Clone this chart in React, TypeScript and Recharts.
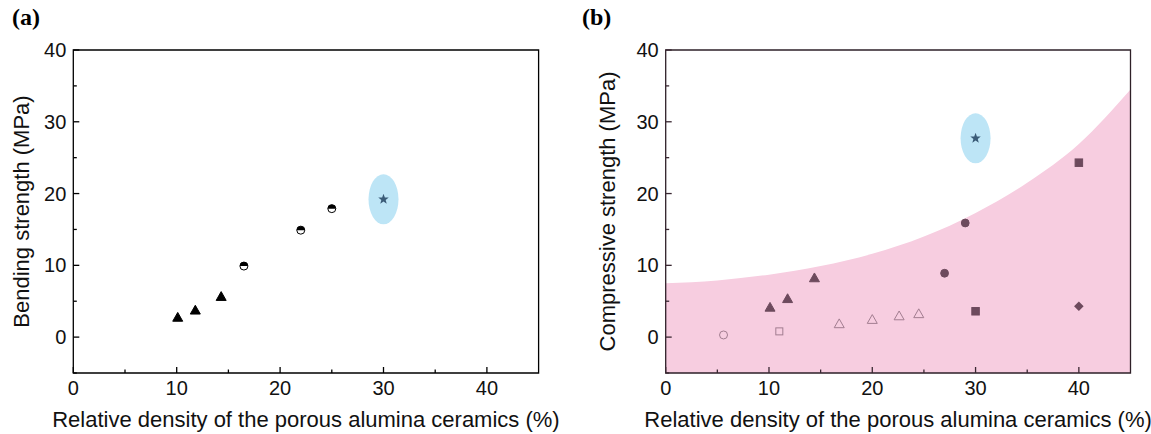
import React from "react";
import {
    ScatterChart, ComposedChart, Scatter, Area, XAxis, YAxis, ReferenceArea
} from "recharts";

// panel (a): bending strength
const aTriangles = [{ x: 10.1, y: 2.7 }, { x: 11.8, y: 3.7 }, { x: 14.3, y: 5.6 }];
const aHalfCircles = [{ x: 16.5, y: 9.9 }, { x: 22.0, y: 14.9 }, { x: 25.0, y: 17.9 }];
const aStar = [{ x: 30.0, y: 19.2 }];

// panel (b): compressive strength
const bOpenCircle = [{ x: 5.6, y: 0.3 }];
const bOpenSquare = [{ x: 11.0, y: 0.8 }];
const bTriangles = [{ x: 10.1, y: 4.1 }, { x: 11.8, y: 5.3 }, { x: 14.4, y: 8.2 }];
const bOpenTriangles = [{ x: 16.8, y: 1.8 }, { x: 20.0, y: 2.4 }, { x: 22.6, y: 2.9 }, { x: 24.5, y: 3.2 }];
const bCircles = [{ x: 27.0, y: 8.9 }, { x: 29.0, y: 15.9 }];
const bSquares = [{ x: 30.0, y: 3.6 }, { x: 40.0, y: 24.3 }];
const bDiamond = [{ x: 40.0, y: 4.3 }];
const bStar = [{ x: 30.0, y: 27.7 }];
// upper edge of the pink region
const bBoundary = [
    { x: 0, y: 7.5 }, { x: 5, y: 7.9 }, { x: 10, y: 8.7 }, { x: 15, y: 9.9 }, { x: 20, y: 11.6 },
    { x: 25, y: 14.0 }, { x: 30, y: 17.3 }, { x: 35, y: 21.5 }, { x: 40, y: 26.9 }, { x: 45, y: 34.5 }
];

const X_TICKS = [0, 5, 10, 15, 20, 25, 30, 35, 40];
const Y_TICKS = [-5, 0, 5, 10, 15, 20, 25, 30, 35, 40];
const X_TITLE = "Relative density of the porous alumina ceramics (%)";

const FONT = '"Liberation Sans", Arial, sans-serif';
const MAUVE = "#6d4a5d";
const MAUVE_LIGHT = "#a27d90";
const PINK = "#f7cde0";

const XTick = (p: any) => {
    const v = p.payload.value;
    const major = v % 10 === 0;
    return (
        <g>
            <line x1={p.x} y1={p.y} x2={p.x} y2={p.y - (major ? 6 : 3.5)} stroke={p.color} strokeWidth={1.3} />
            {major && (
                <text x={p.x} y={p.y + 22} textAnchor="middle" fontSize={20} fontFamily={FONT} fill="#111">{v}</text>
            )}
        </g>
    );
};

const YTick = (p: any) => {
    const v = p.payload.value;
    const major = v % 10 === 0;
    return (
        <g>
            <line x1={p.x} y1={p.y} x2={p.x + (major ? 6 : 3.5)} y2={p.y} stroke={p.color} strokeWidth={1.3} />
            {major && (
                <text x={p.x - 7} y={p.y + 7} textAnchor="end" fontSize={20} fontFamily={FONT} fill="#111">{v}</text>
            )}
        </g>
    );
};

const triangle = (fill: string, stroke: string) => (p: any) => (
    <polygon
        points={`${p.cx},${p.cy - 5.3} ${p.cx - 5},${p.cy + 3.5} ${p.cx + 5},${p.cy + 3.5}`}
        fill={fill} stroke={stroke} strokeWidth={1}
    />
);

const halfCircle = (p: any) => (
    <g>
        <circle cx={p.cx} cy={p.cy} r={4} fill="#fff" stroke="#000" strokeWidth={1} />
        <path d={`M${p.cx - 4},${p.cy} A4,4 0 0 1 ${p.cx + 4},${p.cy} Z`} fill="#000" />
    </g>
);

const starPath = (cx: number, cy: number, ro: number, ri: number) => {
    let d = "";
    for (let i = 0; i < 10; i++) {
        const r = i % 2 === 0 ? ro : ri;
        const a = -Math.PI / 2 + (i * Math.PI) / 5;
        d += `${i === 0 ? "M" : "L"}${cx + r * Math.cos(a)},${cy + r * Math.sin(a)}`;
    }
    return d + "Z";
};

const highlightStar = (p: any) => (
    <g>
        <ellipse cx={p.cx} cy={p.cy} rx={15} ry={25} fill="#bde5f6" />
        <path d={starPath(p.cx, p.cy, 5.5, 2.3)} fill="#3b5c78" />
    </g>
);

const circle = (fill: string, stroke: string, r: number) => (p: any) => (
    <circle cx={p.cx} cy={p.cy} r={r} fill={fill} stroke={stroke} strokeWidth={1} />
);

const square = (fill: string, stroke: string, s: number) => (p: any) => (
    <rect x={p.cx - s / 2} y={p.cy - s / 2} width={s} height={s} fill={fill} stroke={stroke} strokeWidth={1} />
);

const diamond = (p: any) => (
    <polygon
        points={`${p.cx},${p.cy - 4.8} ${p.cx + 4.8},${p.cy} ${p.cx},${p.cy + 4.8} ${p.cx - 4.8},${p.cy}`}
        fill={MAUVE}
    />
);

const panelLetter: React.CSSProperties = {
    position: "absolute", top: 4, fontFamily: '"Liberation Serif", "Times New Roman", serif',
    fontWeight: "bold", fontSize: 24, color: "#000"
};

export default function App() {
    const titleStyle = { fontSize: 22, fontFamily: FONT, fill: "#111" };

    return (
        <div style={{ position: "absolute", left: 0, top: 0, width: 1151, height: 434, background: "#fff" }}>
            <div style={{ ...panelLetter, left: 12 }}>(a)</div>
            <div style={{ ...panelLetter, left: 582 }}>(b)</div>

            <div style={{ position: "absolute", left: 0, top: 0 }}>
                <ScatterChart width={575} height={434} margin={{ top: 50, right: 36.4, left: 13.3, bottom: 0 }}>
                    <XAxis
                        type="number" dataKey="x" domain={[0, 45]} ticks={X_TICKS} interval={0}
                        allowDataOverflow axisLine={false} tickLine={false} tickSize={0} tickMargin={0} height={61}
                        tick={(p: any) => <XTick {...p} color="#000" />}
                        label={{ value: X_TITLE, position: "insideBottom", offset: 7, style: titleStyle }}
                    />
                    <YAxis
                        type="number" dataKey="y" domain={[-5, 40]} ticks={Y_TICKS} interval={0}
                        allowDataOverflow axisLine={false} tickLine={false} tickSize={0} tickMargin={0} width={60}
                        tick={(p: any) => <YTick {...p} color="#000" />}
                        label={{
                            value: "Bending strength (MPa)", angle: -90, position: "insideLeft", offset: 8,
                            style: { ...titleStyle, textAnchor: "middle" }
                        }}
                    />
                    <Scatter data={aTriangles} shape={triangle("#000", "#000")} isAnimationActive={false} />
                    <Scatter data={aHalfCircles} shape={halfCircle} isAnimationActive={false} />
                    <Scatter data={aStar} shape={highlightStar} isAnimationActive={false} />
                    <ReferenceArea x1={0} x2={45} y1={-5} y2={40} fill="none" stroke="#000" strokeWidth={1.3} />
                </ScatterChart>
            </div>

            <div style={{ position: "absolute", left: 575, top: 0 }}>
                <ComposedChart width={576} height={434} data={bBoundary} margin={{ top: 50, right: 20.5, left: 20.7, bottom: 0 }}>
                    <XAxis
                        type="number" dataKey="x" domain={[0, 45]} ticks={X_TICKS} interval={0}
                        allowDataOverflow axisLine={false} tickLine={false} tickSize={0} tickMargin={0} height={61}
                        tick={(p: any) => <XTick {...p} color="#3a2832" />}
                        label={{ value: X_TITLE, position: "insideBottom", offset: 7, style: titleStyle }}
                    />
                    <YAxis
                        type="number" dataKey="y" domain={[-5, 40]} ticks={Y_TICKS} interval={0}
                        allowDataOverflow axisLine={false} tickLine={false} tickSize={0} tickMargin={0} width={70}
                        tick={(p: any) => <YTick {...p} color="#3a2832" />}
                        label={{
                            value: "Compressive strength (MPa)", angle: -90, position: "insideLeft", offset: 12,
                            style: { ...titleStyle, textAnchor: "middle" }
                        }}
                    />
                    <Area
                        type="monotone" dataKey="y" baseValue={-5} fill={PINK} fillOpacity={1}
                        stroke="none" isAnimationActive={false} dot={false} activeDot={false}
                    />
                    <Scatter data={bOpenCircle} shape={circle("none", MAUVE_LIGHT, 4)} isAnimationActive={false} />
                    <Scatter data={bOpenSquare} shape={square("none", MAUVE_LIGHT, 7)} isAnimationActive={false} />
                    <Scatter data={bTriangles} shape={triangle(MAUVE, MAUVE)} isAnimationActive={false} />
                    <Scatter data={bOpenTriangles} shape={triangle("none", MAUVE_LIGHT)} isAnimationActive={false} />
                    <Scatter data={bCircles} shape={circle(MAUVE, MAUVE, 3.9)} isAnimationActive={false} />
                    <Scatter data={bSquares} shape={square(MAUVE, MAUVE, 7.5)} isAnimationActive={false} />
                    <Scatter data={bDiamond} shape={diamond} isAnimationActive={false} />
                    <Scatter data={bStar} shape={highlightStar} isAnimationActive={false} />
                    <ReferenceArea x1={0} x2={45} y1={-5} y2={40} fill="none" stroke="#2e2028" strokeWidth={1.3} />
                </ComposedChart>
            </div>
        </div>
    );
}
